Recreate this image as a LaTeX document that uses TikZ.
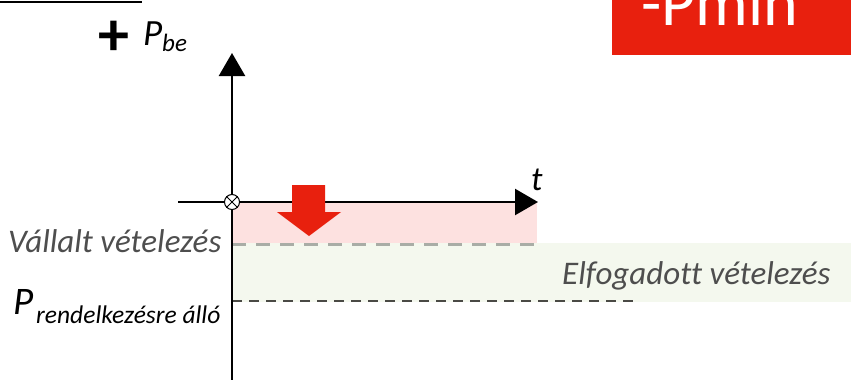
\documentclass[tikz,border=0pt]{standalone}
\usepackage{fontspec}
\setmainfont{Carlito}[Ligatures=NoCommon]
\usetikzlibrary{arrows.meta}
\definecolor{pmred}{HTML}{E8200E}
\definecolor{pinkfill}{HTML}{FDE1E0}
\definecolor{greenfill}{HTML}{F4F8EE}
\definecolor{lbl}{HTML}{4E4E4E}
\definecolor{dashgray}{HTML}{A9ADA6}
\definecolor{dashdark}{HTML}{4A4A45}
\tikzset{
  axisline/.style={line width=2.4pt, -{Triangle[length=23pt,width=26pt]}},
  lbltext/.style={anchor=base west, inner sep=0pt, text=lbl, font=\fontsize{33}{33}\selectfont\itshape},
  bigP/.style={anchor=base west, inner sep=0pt, font=\fontsize{39}{39}\selectfont\itshape},
  subtext/.style={anchor=base west, inner sep=0pt, font=\fontsize{25.5}{25.5}\selectfont\itshape},
}
\begin{document}
\begin{tikzpicture}[x=1pt,y=-1pt]
\useasboundingbox (0,0) rectangle (851,380);
% top-left underline fragment
\draw[line width=2pt] (0,1.5) -- (142,1.5);
% red box
\fill[pmred] (612,-5) rectangle (851,55);
\node[anchor=base west, inner sep=0pt, text=white, font=\fontsize{66}{66}\selectfont] (pmin) at (641,25) {-Pmin};
% bands
\fill[greenfill] (232,243) rectangle (851,302);
\fill[pinkfill] (232,202) rectangle (537,243);
\coordinate (g1) at (232,244);
\coordinate (g2) at (537,244);
\coordinate (d1) at (232,301);
\coordinate (d2) at (636,301);
\draw[dashgray, line width=3pt, dash pattern=on 14pt off 10pt] (g1) -- (g2);
\draw[dashdark, line width=2pt, dash pattern=on 10pt off 7pt] (d1) -- (d2);
% axes
\coordinate (xs) at (178,202);
\coordinate (xe) at (538,202);
\coordinate (ys) at (232,382);
\coordinate (ye) at (232,53);
\draw[axisline] (xs) -- (xe);
\draw[axisline] (ys) -- (ye);
% origin
\node[circle, draw, fill=white, line width=1pt, minimum size=15pt, inner sep=0pt] (o) at (232,202) {};
\draw[line width=0.9pt] (o.north east) -- (o.south west);
\draw[line width=0.9pt] (o.north west) -- (o.south east);
% red arrow
\fill[pmred] (292,185) -- (325,185) -- (325,212) -- (341,212) -- (309,236) -- (277,212) -- (292,212) -- cycle;
% labels
\node[font=\fontsize{62}{62}\selectfont\bfseries, inner sep=0pt] (plus) at (113.5,38) {+};
\node[bigP, font=\fontsize{37}{37}\selectfont\itshape] (pbe) at (143,45) {P};
\node[subtext, font=\fontsize{25}{25}\selectfont\itshape] (be) at (162,51) {be};
\node[bigP, font=\fontsize{34}{34}\selectfont\itshape] (t) at (531,190) {t};
\node[lbltext] (vallalt) at (8,252) {Vállalt vételezés};
\node[lbltext] (elfog) at (562,284) {Elfogadott vételezés};
\node[bigP] (prend) at (13,314) {P};
\node[subtext] (rend) at (36,323) {rendelkezésre álló};
\end{tikzpicture}
\end{document}
